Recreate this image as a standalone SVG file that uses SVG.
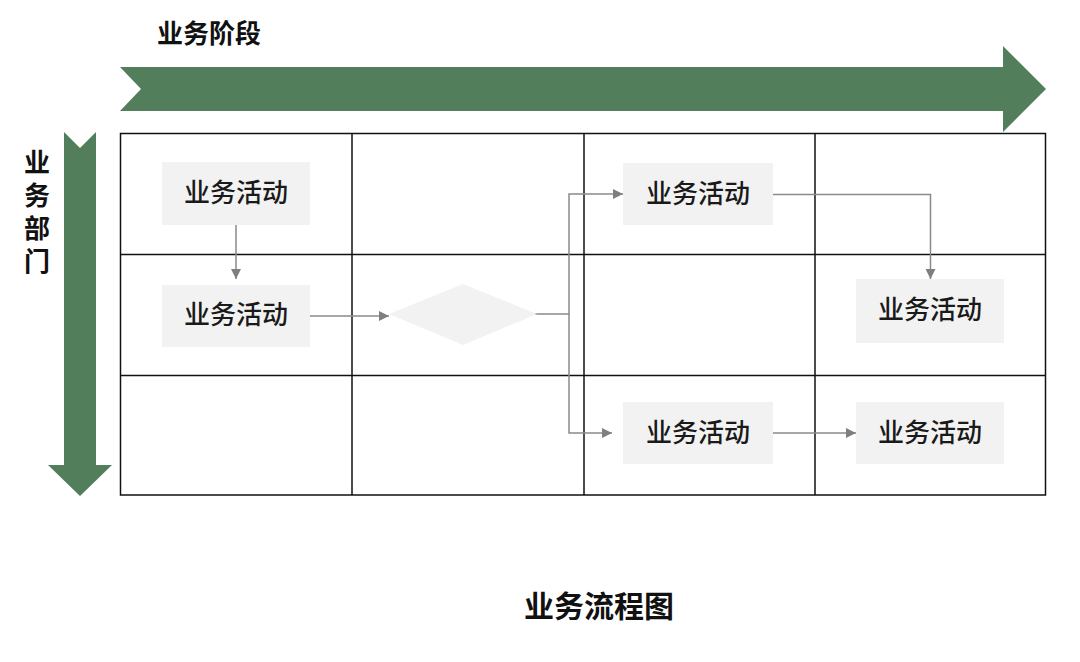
<svg xmlns="http://www.w3.org/2000/svg" width="1080" height="662" viewBox="0 0 1080 662">
<defs>
<style>
.t{font-family:"Liberation Sans","Noto Sans CJK SC",sans-serif;}
.box{fill:#f2f2f2;}
.bt{font-size:26px;fill:#1a1a1a;text-anchor:middle;font-weight:500;}
.hd{font-size:26px;font-weight:bold;fill:#111;}
.grid{fill:none;stroke:#111;stroke-width:1.5;}
.c{fill:none;stroke:#8a8a8a;stroke-width:1.5;}
</style>
<marker id="ah" viewBox="0 0 10 10" refX="10" refY="5" markerWidth="10" markerHeight="10" markerUnits="userSpaceOnUse" orient="auto">
<path d="M0,0 L10,5 L0,10 z" fill="#7f7f7f"/>
</marker>
</defs>
<rect width="1080" height="662" fill="#fff"/>
<g id="stage-arrow">
<polygon points="120,67 1003,67 1003,46 1046,89 1003,132 1003,111 120,111 141,89" fill="#527e5b"/>
<text class="t hd" x="157" y="43">业务阶段</text>
</g>
<g id="dept-arrow">
<polygon points="64,132 80,148 96,132 96,465 112,465 80,496 48,465 64,465" fill="#527e5b"/>
<text class="t hd" x="37" y="172" text-anchor="middle">业</text>
<text class="t hd" x="37" y="205" text-anchor="middle">务</text>
<text class="t hd" x="37" y="238" text-anchor="middle">部</text>
<text class="t hd" x="37" y="271" text-anchor="middle">门</text>
</g>
<g id="grid">
<rect class="grid" x="120.5" y="133.5" width="925" height="361.5"/>
<line class="grid" x1="352" y1="133" x2="352" y2="495"/>
<line class="grid" x1="584" y1="133" x2="584" y2="495"/>
<line class="grid" x1="815" y1="133" x2="815" y2="495"/>
<line class="grid" x1="120" y1="254.5" x2="1046" y2="254.5"/>
<line class="grid" x1="120" y1="375.5" x2="1046" y2="375.5"/>
</g>
<g id="connectors">
<path class="c" d="M236,225 V279" marker-end="url(#ah)"/>
<path class="c" d="M310,316 H389" marker-end="url(#ah)"/>
<path class="c" d="M527,314 H569 V194 H623" marker-end="url(#ah)"/>
<path class="c" d="M569,314 V433 H612" marker-end="url(#ah)"/>
<path class="c" d="M773,194.5 H930.5 V279" marker-end="url(#ah)"/>
<path class="c" d="M773,433 H856" marker-end="url(#ah)"/>
</g>
<g id="n1"><rect class="box" x="162" y="162" width="148" height="63"/><text class="t bt" x="236" y="202">业务活动</text></g>
<g id="n2"><rect class="box" x="162" y="285" width="148" height="62"/><text class="t bt" x="236" y="324">业务活动</text></g>
<g id="decision"><polygon points="389,314 463,284 537,314 463,345" fill="#f2f2f2"/></g>
<g id="n3"><rect class="box" x="623" y="163" width="150" height="62"/><text class="t bt" x="698" y="203">业务活动</text></g>
<g id="n4"><rect class="box" x="856" y="279" width="148" height="64"/><text class="t bt" x="930" y="319">业务活动</text></g>
<g id="n5"><rect class="box" x="623" y="402" width="150" height="62"/><text class="t bt" x="698" y="442">业务活动</text></g>
<g id="n6"><rect class="box" x="856" y="402" width="148" height="62"/><text class="t bt" x="930" y="442">业务活动</text></g>
<text class="t" x="599" y="617" font-size="30" font-weight="bold" fill="#111" text-anchor="middle">业务流程图</text>
</svg>
